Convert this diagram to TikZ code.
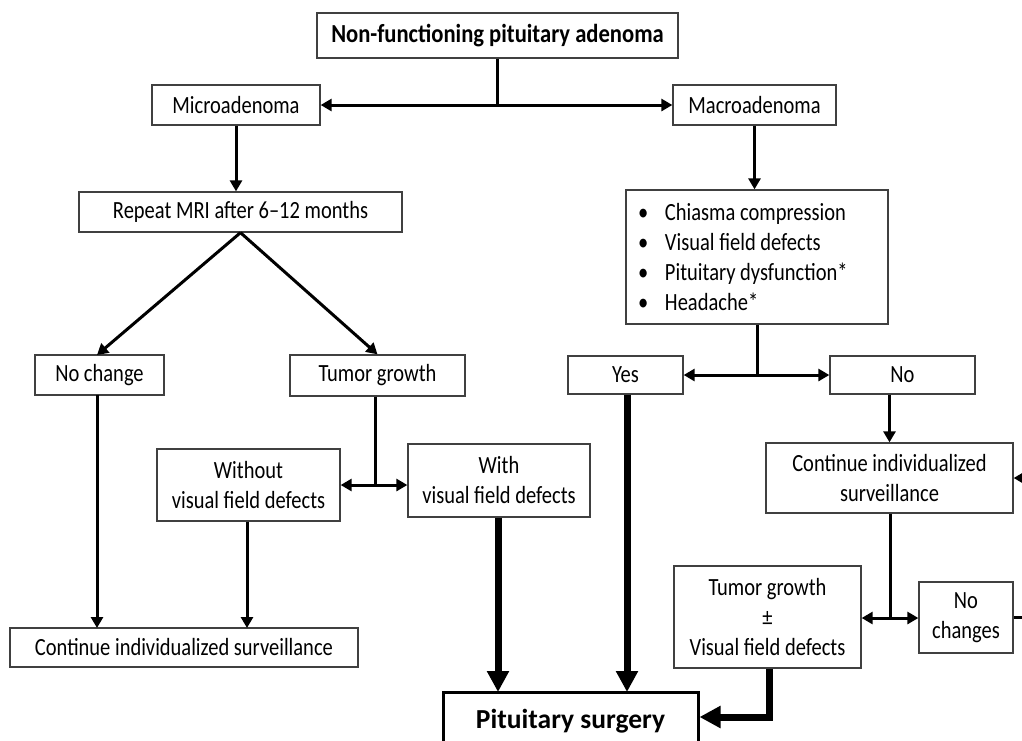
\documentclass[tikz,border=0pt]{standalone}
\usepackage{fontspec}
\setmainfont{Carlito}
\newfontfamily\sqfont{Carlito}[FakeStretch=0.83,Ligatures=TeX]
\newfontfamily\sqtfont{Carlito}[FakeStretch=0.87,Ligatures=TeX]
\usetikzlibrary{arrows.meta}
\tikzset{
  box/.style={draw=black!75, line width=1.3pt, fill=white, inner sep=0pt, align=center,
    font=\sqfont\fontsize{24.7}{30}\selectfont},
  ln/.style={line width=3pt},
  arr/.style={ln, -{Triangle[length=11pt,width=12pt]}},
  darr/.style={ln, {Triangle[length=11pt,width=12pt]}-{Triangle[length=11pt,width=12pt]}},
  tln/.style={line width=7pt},
  tarr/.style={tln, -{Triangle[length=21pt,width=21pt]}},
}
\newcommand{\blt}[1]{\makebox[27pt][l]{•}#1}
\begin{document}
\begin{tikzpicture}[x=1pt,y=-1pt]
\useasboundingbox (0,0) rectangle (1022,740);
\clip (0,0) rectangle (1022,740);
% nodes
\node[box, minimum width=361, minimum height=45, font=\sqtfont\fontsize{26}{28}\selectfont\bfseries] (top) at (497.5,35.5) {Non-functioning pituitary adenoma};
\node[box, minimum width=168, minimum height=40] (micro) at (236,105) {Microadenoma};
\node[box, minimum width=163, minimum height=40] (macro) at (754.5,105) {Macroadenoma};
\node[box, minimum width=323, minimum height=40] (mri) at (240.5,212) {Repeat MRI after 6–12 months};
\node[box, minimum width=262, minimum height=134] (bul) at (757,257)
  {\makebox[238pt][l]{\begin{tabular}{@{}l@{}}\rule{0pt}{25pt}\blt{Chiasma compression}\\\blt{Visual field defects}\\\blt{Pituitary dysfunction*}\\\blt{Headache*}\end{tabular}}};
\node[box, minimum width=129, minimum height=40] (noch) at (99.5,375) {No change};
\node[box, minimum width=175, minimum height=41] (tg) at (377.5,375.5) {Tumor growth};
\node[box, minimum width=115, minimum height=38] (yes) at (625.5,375) {Yes};
\node[box, minimum width=145, minimum height=38] (no) at (902.5,375) {No};
\node[box, minimum width=183, minimum height=72] (without) at (248.5,485) {Without\\visual field defects};
\node[box, minimum width=182, minimum height=73] (with) at (499,480.5) {With\\visual field defects};
\node[box, minimum width=247, minimum height=70] (contR) at (889.5,478) {Continue individualized\\surveillance};
\node[box, minimum width=348, minimum height=39] (contL) at (184,647.5) {Continue individualized surveillance};
\node[box, minimum width=187, minimum height=102] (tg2) at (767.5,617) {Tumor growth\\±\\Visual field defects};
\node[box, minimum width=94, minimum height=71] (noch2) at (966,617.5) {No\\changes};
\node[box, draw=black, line width=3pt, minimum width=255, minimum height=58, font=\fontsize{27.5}{30}\selectfont\bfseries] (surg) at (570.5,721) {Pituitary surgery};
% coordinates
\coordinate (j0) at (top.south |- micro.east);
\coordinate (j1) at (375,485);
\coordinate (j2) at (bul.south |- yes.east);
\coordinate (j3) at (890,618);
\coordinate (j4) at (769,717);
\coordinate (offA) at (1040,478);
\coordinate (offB) at (1040,617.5);
% connectors
\draw[ln] (top.south) -- (j0);
\draw[darr] (micro.east) -- (macro.west);
\draw[arr] (micro.south) -- (micro.south |- mri.north);
\draw[arr] (macro.south) -- (macro.south |- bul.north);
\draw[arr] (mri.south) -- (97,355);
\draw[arr] (mri.south) -- (tg.north);
\draw[ln] (tg.south -| j1) -- (j1);
\draw[arr] (j1) -- (without.east |- j1);
\draw[arr] (j1) -- (with.west |- j1);
\draw[arr] (97,395) -- (97,628);
\draw[arr] (without.south -| 247,0) -- (247,628);
\draw[tarr] (with.south -| 498,0) -- (498,692);
\draw[ln] (bul.south) -- (j2);
\draw[arr] (j2) -- (yes.east);
\draw[arr] (j2) -- (no.west);
\draw[tarr] (yes.south -| 627,0) -- (627,692);
\draw[arr] (no.south -| contR.north) -- (contR.north);
\draw[ln] (contR.south -| j3) -- (j3);
\draw[arr] (j3) -- (tg2.east |- j3);
\draw[arr] (j3) -- (noch2.west |- j3);
\draw[ln] (noch2.east) -- (offB);
\draw[arr] (offA) -- (contR.east);
\draw[tln] (tg2.south -| j4) -- (j4);
\draw[tarr] ([xshift=3.5pt]j4) -- (surg.east |- j4);
\end{tikzpicture}
\end{document}
